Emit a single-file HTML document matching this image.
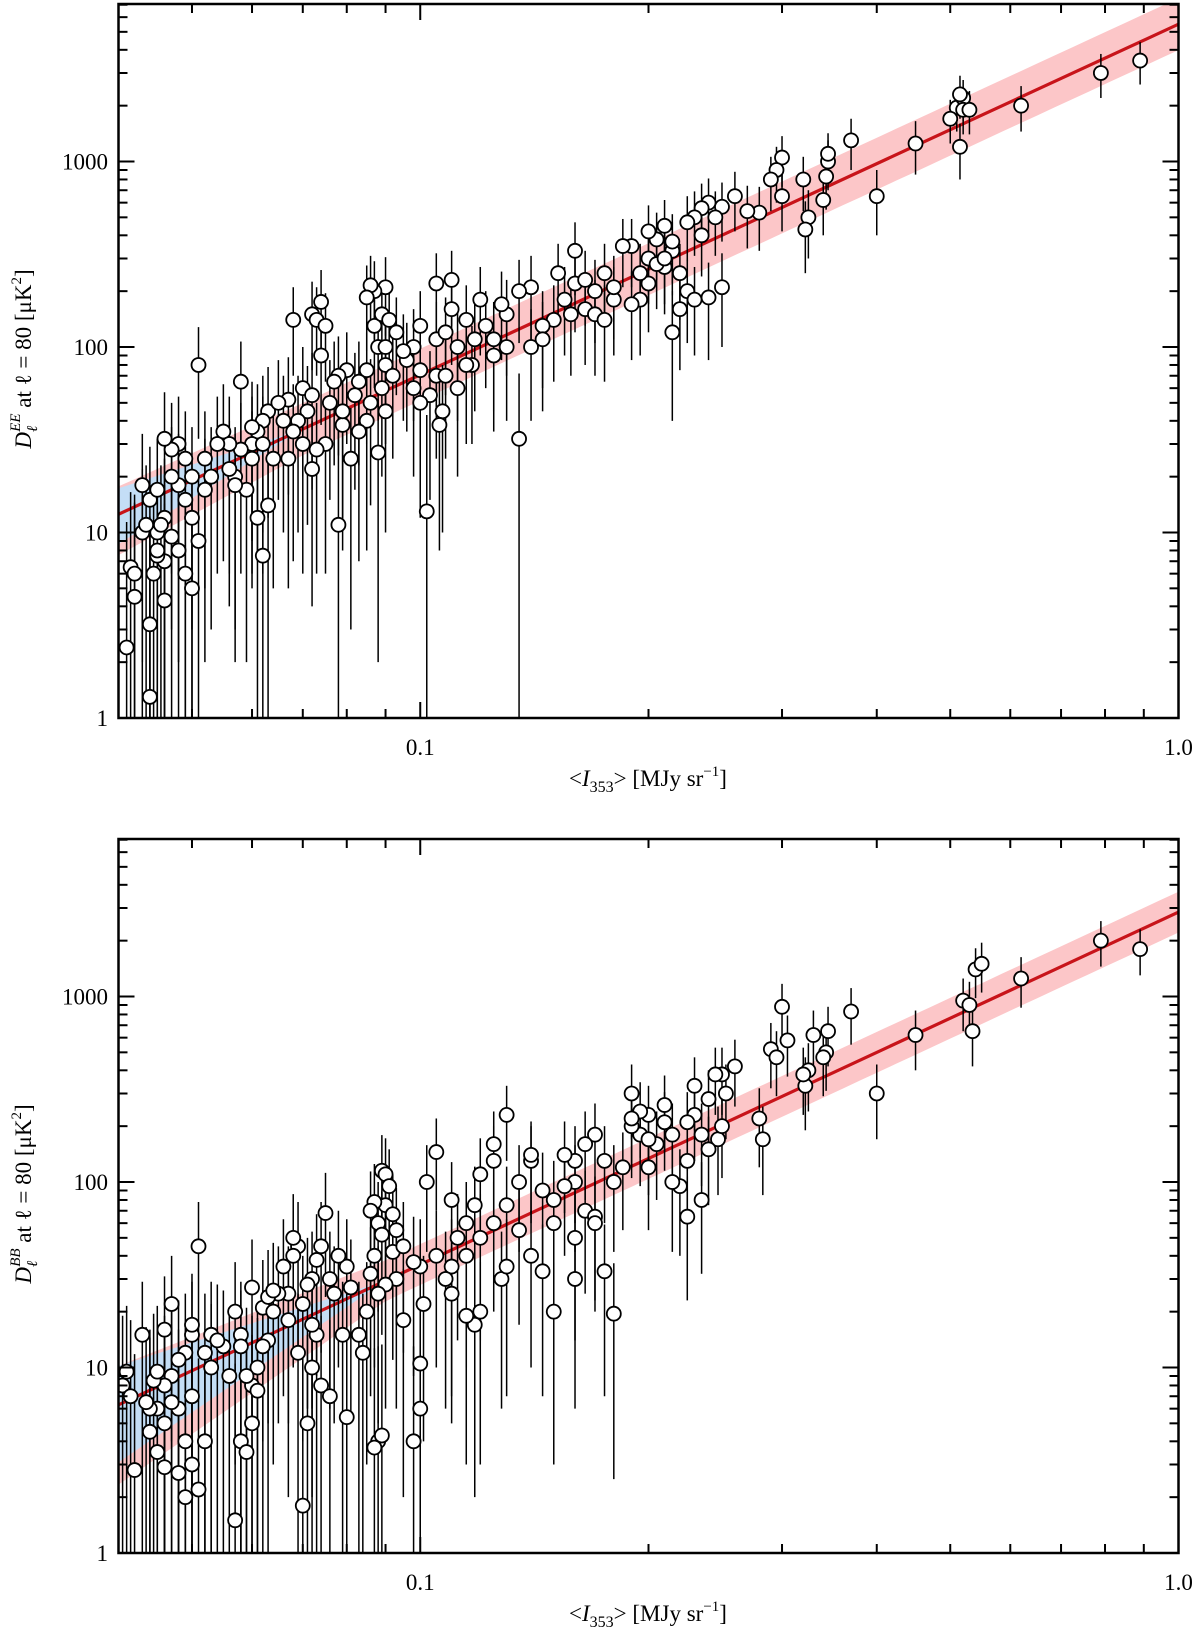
<!DOCTYPE html>
<html><head><meta charset="utf-8"><style>
html,body{margin:0;padding:0;background:#fff;}
svg{display:block;font-family:"Liberation Serif","DejaVu Serif",serif;}
</style></head><body>
<svg id="fig" width="1200" height="1630" viewBox="0 0 1200 1630" xmlns="http://www.w3.org/2000/svg"></svg>
<script>
// ---- data: rows of [I353, D_ell, sigma] ----
const eeData = [
[0.89,3500,900],[0.79,3000,800],[0.62,2000,550],[0.51,1950,500],[0.52,2200,550],[0.515,2300,600],[0.52,1900,500],[0.50,1700,450],[0.515,1200,400],[0.53,1900,500],
[0.45,1250,400],[0.40,650,250],[0.37,1300,400],[0.345,1000,300],[0.343,830,280],[0.34,620,220],[0.345,1100,320],[0.32,800,260],[0.325,500,200],[0.322,430,180],
[0.30,1050,320],[0.295,900,300],[0.29,800,260],[0.30,650,230],[0.28,530,200],[0.27,540,200],[0.26,650,230],[0.25,570,200],[0.24,600,210],[0.245,500,190],
[0.25,210,110],[0.24,185,100],[0.235,560,200],[0.23,500,190],[0.225,470,180],[0.235,400,160],[0.215,330,140],[0.21,270,120],[0.22,250,110],[0.215,120,80],
[0.21,450,170],[0.205,380,150],[0.2,300,130],[0.2,220,100],[0.195,250,110],[0.19,350,140],[0.195,180,90],[0.22,160,85],[0.225,200,95],[0.23,180,90],
[0.2,420,160],[0.205,280,120],[0.21,300,130],[0.215,370,150],[0.18,180,90],[0.175,250,110],[0.17,200,95],[0.165,160,80],[0.16,220,100],[0.155,180,90],
[0.15,140,75],[0.16,330,140],[0.17,150,80],[0.18,210,100],[0.185,350,140],[0.19,170,85],[0.175,140,75],[0.165,230,100],[0.158,150,80],[0.152,250,110],
[0.145,130,70],[0.14,210,100],[0.135,200,95],[0.13,150,80],[0.13,100,60],[0.125,110,65],[0.128,170,85],[0.12,180,90],[0.118,110,65],[0.115,140,75],
[0.11,230,100],[0.112,100,60],[0.14,100,60],[0.145,110,65],[0.135,32,40],[0.125,90,55],[0.122,130,70],[0.117,80,50],[0.105,110,65],[0.1,75,50],
[0.098,100,60],[0.1,130,70],[0.103,55,40],[0.105,70,45],[0.108,70,45],[0.107,45,35],[0.106,38,30],[0.11,160,80],[0.108,120,65],[0.102,13,30],
[0.098,60,40],[0.096,85,50],[0.093,120,65],[0.095,95,55],[0.112,60,40],[0.115,80,50],[0.105,220,100],[0.1,50,38],[0.09,210,95],[0.087,200,90],
[0.086,215,95],[0.085,185,90],[0.088,100,60],[0.09,80,50],[0.089,60,40],[0.09,45,35],[0.088,27,25],[0.085,75,45],[0.083,65,42],[0.082,55,38],
[0.08,75,45],[0.078,11,30],[0.079,38,30],[0.081,25,22],[0.087,130,70],[0.089,150,75],[0.091,140,70],[0.09,100,58],[0.092,70,45],[0.085,40,32],
[0.083,35,28],[0.086,50,36],[0.072,150,75],[0.073,140,70],[0.074,175,85],[0.075,130,65],[0.068,140,70],[0.07,60,40],[0.072,55,38],[0.071,45,34],
[0.069,40,30],[0.068,35,28],[0.067,52,36],[0.066,40,30],[0.074,90,52],[0.076,50,35],[0.078,70,44],[0.075,30,24],[0.073,28,22],[0.072,22,18],
[0.077,65,42],[0.079,45,33],[0.07,30,24],[0.067,25,20],[0.063,45,33],[0.062,40,30],[0.061,35,28],[0.06,30,24],[0.06,25,20],[0.058,28,22],
[0.057,20,17],[0.056,22,18],[0.059,17,15],[0.061,12,14],[0.062,7.5,12],[0.063,14,14],[0.064,25,20],[0.058,65,42],[0.055,35,28],[0.056,30,24],
[0.057,18,16],[0.06,37,28],[0.062,30,24],[0.065,50,35],[0.051,80,48],[0.05,20,17],[0.049,25,20],[0.048,30,24],[0.047,28,22],[0.046,32,25],
[0.048,18,16],[0.049,15,14],[0.05,12,13],[0.051,9,12],[0.05,5,10],[0.052,25,20],[0.053,20,17],[0.054,30,24],[0.052,17,15],[0.047,20,17],
[0.046,12,13],[0.045,10,12],[0.046,7,11],[0.048,8,11],[0.049,6,10],[0.047,9.5,12],[0.041,2.4,9],[0.0415,6.5,10],[0.042,4.5,10],[0.043,18,16],
[0.043,10,12],[0.042,6,10],[0.044,1.3,9],[0.0445,6,10],[0.044,3.2,9],[0.045,7.5,11],[0.0435,11,12],[0.045,8,11],[0.044,15,14],[0.045,17,15],
[0.046,4.3,10],[0.0455,11,12]
];
const bbData = [
[0.89,1800,500],[0.79,2000,550],[0.62,1250,380],[0.52,950,300],[0.53,900,300],[0.54,1400,420],[0.55,1500,450],[0.535,650,230],[0.45,620,220],[0.40,300,130],
[0.37,830,280],[0.345,650,230],[0.343,500,190],[0.34,470,180],[0.33,620,220],[0.325,400,160],[0.322,330,140],[0.32,380,150],[0.30,880,290],[0.305,580,210],
[0.29,520,200],[0.295,470,180],[0.28,220,100],[0.283,170,85],[0.26,420,165],[0.25,380,150],[0.253,300,130],[0.245,380,150],[0.24,280,120],[0.247,170,85],
[0.25,200,95],[0.24,150,75],[0.235,180,85],[0.23,230,100],[0.225,210,95],[0.23,330,140],[0.225,130,70],[0.22,95,55],[0.215,180,85],[0.21,260,115],
[0.205,160,80],[0.2,120,65],[0.2,230,100],[0.195,240,105],[0.19,300,130],[0.195,180,85],[0.19,200,95],[0.185,120,65],[0.18,100,58],[0.175,130,70],
[0.17,180,85],[0.165,160,80],[0.16,130,70],[0.16,100,58],[0.165,70,45],[0.17,65,42],[0.155,140,72],[0.15,80,50],[0.15,60,40],[0.145,90,54],
[0.14,130,70],[0.14,140,72],[0.135,100,58],[0.13,75,46],[0.13,230,100],[0.125,160,80],[0.125,60,40],[0.12,110,62],[0.118,75,46],[0.12,50,36],
[0.115,40,30],[0.112,50,36],[0.11,35,28],[0.108,30,24],[0.11,80,48],[0.115,60,40],[0.105,40,30],[0.1,35,28],[0.105,145,75],[0.102,100,58],
[0.11,25,20],[0.12,20,17],[0.118,17,15],[0.115,19,16],[0.125,130,70],[0.128,30,24],[0.13,35,28],[0.135,55,38],[0.14,40,30],[0.145,33,26],
[0.15,20,17],[0.155,95,55],[0.17,60,40],[0.175,33,26],[0.18,19.5,17],[0.16,30,24],[0.16,50,36],[0.19,220,100],[0.2,170,85],[0.21,210,95],
[0.215,100,58],[0.225,65,42],[0.235,80,48],[0.098,4,9],[0.1,6,10],[0.1,10.5,12],[0.101,22,18],[0.098,37,28],[0.095,18,16],[0.093,30,24],
[0.09,75,46],[0.087,78,47],[0.088,60,40],[0.089,115,64],[0.09,110,62],[0.091,95,55],[0.092,67,43],[0.093,55,38],[0.09,28,22],[0.088,4,9],
[0.089,4.3,9],[0.087,3.7,9],[0.088,25,20],[0.086,32,25],[0.085,20,17],[0.084,12,13],[0.083,15,14],[0.087,40,30],[0.089,52,37],[0.092,42,31],
[0.086,70,44],[0.095,45,33],[0.081,27,22],[0.08,35,28],[0.08,5.4,10],[0.075,68,44],[0.074,45,33],[0.073,38,29],[0.072,30,24],[0.071,28,22],
[0.07,22,18],[0.069,45,33],[0.068,40,30],[0.067,25,20],[0.072,10,12],[0.073,15,14],[0.074,8,11],[0.076,7,11],[0.077,25,20],[0.078,40,30],
[0.079,15,14],[0.07,1.8,9],[0.071,5,10],[0.069,12,13],[0.068,50,36],[0.066,35,28],[0.065,25,20],[0.067,18,16],[0.072,17,15],[0.076,30,24],
[0.063,14,14],[0.062,13,13],[0.061,10,12],[0.06,8,11],[0.06,5,10],[0.058,4,9],[0.057,1.5,9],[0.059,3.5,9],[0.061,7.5,11],[0.062,21,17],
[0.063,24,19],[0.064,26,21],[0.058,15,14],[0.057,20,17],[0.056,9,12],[0.055,13,13],[0.06,27,22],[0.058,13,13],[0.064,20,17],[0.059,9,12],
[0.051,45,33],[0.05,15,14],[0.049,12,13],[0.048,11,12],[0.047,9,12],[0.046,8,11],[0.048,6,10],[0.049,4,9],[0.05,3,9],[0.051,2.2,9],
[0.052,12,13],[0.053,15,14],[0.054,14,14],[0.052,4,9],[0.047,6.5,10],[0.046,5,10],[0.045,6,10],[0.048,2.7,9],[0.049,2,9],[0.05,7,11],
[0.05,17,15],[0.053,10,12],[0.047,22,18],[0.046,16,15],[0.0405,8,11],[0.041,9.5,12],[0.0415,7,11],[0.042,2.8,9],[0.043,15,14],[0.044,6,10],
[0.044,4.5,10],[0.0445,8.5,11],[0.045,9.5,12],[0.045,3.5,9],[0.0435,6.5,10],[0.046,2.9,9]
];
// fit parameters: D = amp * I^slope
const eeFit = [5500, 1.89];
const bbFit = [2850, 1.90];
const xTickLabels = ["0.1","1.0"];
const xTickValues = [0.1, 1.0];
const yTickLabels = ["1","10","100","1000"];
const yTickValues = [1, 10, 100, 1000];

const NS = "http://www.w3.org/2000/svg";
const svg = document.getElementById('fig');
function mk(tag, attrs, parent){ const e=document.createElementNS(NS,tag); for(const k in attrs) e.setAttribute(k,attrs[k]); (parent||svg).appendChild(e); return e; }

const X0=118.5, X1=1178.5, XMIN=0.04, XMAX=1.0;
const DEC=185.5;
function xs(v){ return X0 + (Math.log10(v)-Math.log10(XMIN))/(Math.log10(XMAX)-Math.log10(XMIN))*(X1-X0); }

function panel(name, top, data, fit, bands, label){
  const bottom = top + 714;
  function ys(v){ return bottom - Math.log10(v)*DEC; }
  const g = mk('g', {});
  
  
  const clipId = 'clip-'+name;
  const cp = mk('clipPath',{id:clipId}, g); mk('rect',{x:X0,y:top,width:X1-X0,height:bottom-top},cp);
  const pg = mk('g',{'clip-path':'url(#'+clipId+')'}, g);
  // bands
  const L0=Math.log10(XMIN);
  function f(lx){ const lx0=Math.log10(bands.x0); return Math.max(0,(lx0-lx)/(lx0-L0)); }
  function bandPath(up, lo){
    let a=[], b=[];
    for(let i=0;i<=60;i++){ const lx=L0+(0-L0)*i/60; const ly=Math.log10(fit[0])+fit[1]*lx;
      const fx=f(lx); a.push([xs(Math.pow(10,lx)), bottom-(ly+up(fx))*DEC]); b.push([xs(Math.pow(10,lx)), bottom-(ly-lo(fx))*DEC]); }
    return 'M'+a.map(p=>p[0].toFixed(1)+','+p[1].toFixed(1)).join('L')+'L'+b.reverse().map(p=>p[0].toFixed(1)+','+p[1].toFixed(1)).join('L')+'Z';
  }
  const pink = mk('path',{d:bandPath(fx=>bands.pu+bands.puL*fx, fx=>bands.pl+bands.plL*fx), fill:'#fcc6c8'}, pg);
  
  
  const blue = mk('path',{d:bandPath(fx=>bands.bu*fx, fx=>bands.bl*fx), fill:'#c4def6'}, pg);
  
  
  const fl = mk('line',{x1:xs(XMIN),y1:ys(fit[0]*Math.pow(XMIN,fit[1])),x2:xs(XMAX),y2:ys(fit[0]*Math.pow(XMAX,fit[1])),stroke:'#c8141a','stroke-width':3.2}, pg);
  
  
  // points
  data.forEach(d=>{
    const x=xs(d[0]), y=ys(d[1]);
    const lo = d[1]-d[2] > 0.5 ? ys(d[1]-d[2]) : bottom+5;
    const hi = ys(d[1]+d[2]);
    const eb = mk('line',{x1:x,y1:hi,x2:x,y2:lo,stroke:'#000','stroke-width':1.5}, pg);
    
    
  });
  data.forEach(d=>{
    const c = mk('circle',{cx:xs(d[0]),cy:ys(d[1]),r:7,fill:'#fff',stroke:'#000','stroke-width':1.8}, pg);
    
    
  });
  // ticks
  const tg = mk('g',{stroke:'#000','stroke-width':2}, g);
  for(let dec=-2; dec<=0; dec++){ for(let m=1;m<=9;m++){ const v=m*Math.pow(10,dec); if(v<XMIN-1e-9||v>XMAX+1e-9) continue; const x=xs(v); const len=(m===1)?16:9;
    mk('line',{x1:x,y1:bottom,x2:x,y2:bottom-len},tg); mk('line',{x1:x,y1:top,x2:x,y2:top+len},tg);} }
  for(let dec=0; dec<=3; dec++){ for(let m=1;m<=9;m++){ const v=m*Math.pow(10,dec); const y=ys(v); if(y<top) continue; const len=(m===1)?16:9;
    mk('line',{x1:X0,y1:y,x2:X0+len,y2:y},tg); mk('line',{x1:X1,y1:y,x2:X1-len,y2:y},tg);} }
  const frame = mk('rect',{x:X0,y:top,width:X1-X0,height:bottom-top,fill:'none',stroke:'#000','stroke-width':2.5}, g);
  
  
  // tick labels
  yTickValues.forEach((v,i)=>{ const t=mk('text',{x:108,y:ys(v)+8,'text-anchor':'end','font-size':23}, g); t.textContent=yTickLabels[i];
    
     });
  xTickValues.forEach((v,i)=>{ const t=mk('text',{x:xs(v),y:bottom+37,'text-anchor':'middle','font-size':23}, g); t.textContent=xTickLabels[i];
    
     });
  // x title
  const xt = mk('text',{x:648,y:bottom+68,'text-anchor':'middle','font-size':23}, g);
  xt.innerHTML = '&lt;<tspan font-style="italic">I</tspan><tspan font-size="16" dy="6">353</tspan><tspan dy="-6">&gt; [MJy sr</tspan><tspan font-size="15" dy="-10">−1</tspan><tspan dy="10">]</tspan>';
  
  
  // y title
  const cy = top + 355;
  const yt = mk('text',{x:0,y:0,'text-anchor':'middle','font-size':23,transform:'translate(31,'+cy+') rotate(-90)'}, g);
  yt.innerHTML = '<tspan font-style="italic">D</tspan><tspan font-size="15" font-style="italic" dy="6">ℓ</tspan><tspan font-size="15" font-style="italic" dx="-6" dy="-17">'+label+'</tspan><tspan dy="11"> at ℓ = 80 [μK</tspan><tspan font-size="15" dy="-10">2</tspan><tspan dy="10">]</tspan>';
  
  
}

panel('ee', 4, eeData, eeFit, {x0:0.07, pu:0.14, puL:0.01, pl:0.14, plL:0.08, bu:0.14, bl:0.16}, 'EE');
panel('bb', 839, bbData, bbFit, {x0:0.09, pu:0.11, puL:0.10, pl:0.11, plL:0.32, bu:0.21, bl:0.31}, 'BB');
</script>
</body></html>
